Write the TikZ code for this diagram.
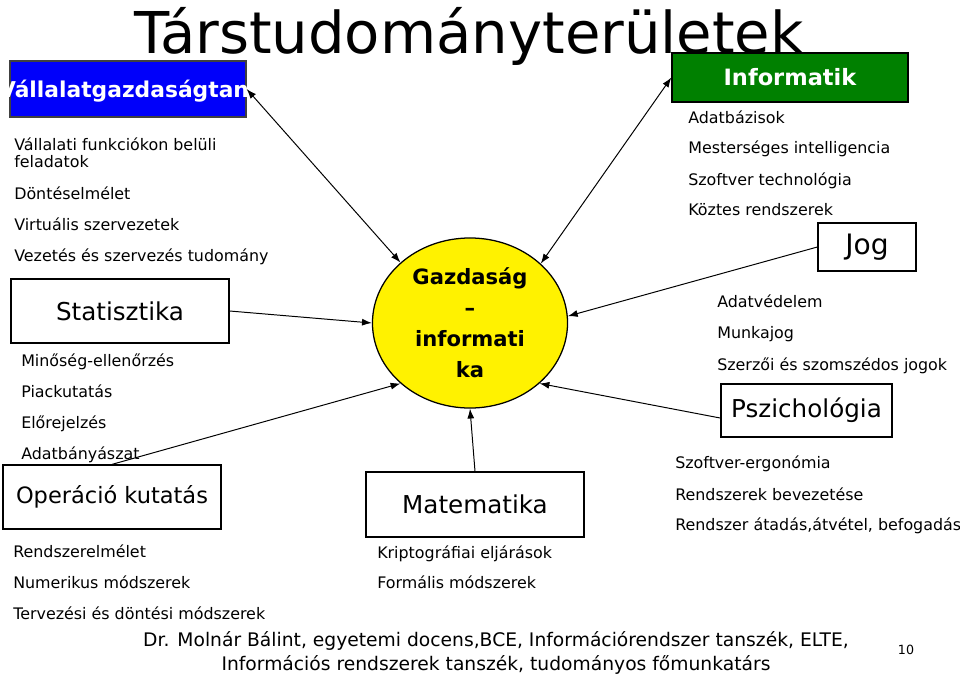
\documentclass[tikz,border=0pt]{standalone}
\usepackage{fontspec}
\setmainfont{DejaVu Sans}
\usetikzlibrary{arrows.meta,shapes.geometric}

\definecolor{boxblue}{RGB}{0,0,250}
\definecolor{boxgreen}{RGB}{0,128,0}

\begin{document}
\begin{tikzpicture}[
        x=0.025cm, y=-0.025cm,
        topic/.style={draw, line width=.9pt, inner sep=0, font=\fontsize{17.5pt}{20pt}\selectfont},
        item/.style={anchor=base west, inner sep=0, font=\fontsize{11.3pt}{13pt}\selectfont},
        tip/.style={-{Latex[length=7pt, width=5pt]}},
        link/.style={line width=.7pt, tip},
        both/.style={line width=.7pt, {Latex[length=7pt, width=5pt]}-{Latex[length=7pt, width=5pt]}},
    ]

    \useasboundingbox (0, 0) rectangle (960, 678);

    % Title.
    \node[anchor=base, inner sep=0, font=\fontsize{41pt}{44pt}\selectfont] (title) at (469, 53) {Társtudományterületek};

    % Central field.
    \node[ellipse, draw, line width=.9pt, fill=yellow, minimum width=4.875cm, minimum height=4.25cm,
        inner sep=0, align=center, font=\fontsize{15pt}{22pt}\selectfont\bfseries] (gi) at (470, 323)
        {Gazdaság\\–\\informati\\ka};

    % Define the neighbouring fields.
    \node[topic, fill=boxblue, draw=darkgray, minimum width=5.9cm, minimum height=1.4cm] (vgt) at (128, 89) {};
    \node[anchor=base, inner sep=0, text=white, font=\fontsize{15.5pt}{18pt}\selectfont\bfseries] (vgttext) at (124, 97) {Vállalatgazdaságtan};
    \node[topic, minimum width=5.45cm, minimum height=1.6cm] (stat) at (120, 311) {Statisztika};
    \node[topic, minimum width=5.45cm, minimum height=1.6cm, font=\fontsize{16pt}{19pt}\selectfont] (ok) at (112, 497) {Operáció kutatás};
    \node[topic, minimum width=5.45cm, minimum height=1.625cm] (mat) at (475, 504.5) {Matematika};
    \node[topic, fill=boxgreen, text=white, minimum width=5.9cm, minimum height=1.225cm,
        font=\fontsize{16pt}{19pt}\selectfont\bfseries] (inf) at (790, 77.5) {Informatik};
    \node[topic, minimum width=2.45cm, minimum height=1.2cm, font=\fontsize{20pt}{23pt}\selectfont] (jog) at (867, 247) {Jog};
    \node[topic, minimum width=4.275cm, minimum height=1.325cm] (psz) at (806.5, 410.5) {Pszichológia};

    % Items under each field.
    \foreach \y/\t in {150/{Vállalati funkciókon belüli}, 167/feladatok, 199/Döntéselmélet,
        230/{Virtuális szervezetek}, 261/{Vezetés és szervezés tudomány}}
        \node[item] (vgt-\y) at (14, \y) {\t};
    \foreach \y/\t in {366/Minőség-ellenőrzés, 397/Piackutatás, 428/Előrejelzés, 459/Adatbányászat}
        \node[item] (stat-\y) at (21, \y) {\t};
    \foreach \y/\t in {557/Rendszerelmélet, 588/{Numerikus módszerek}, 619/{Tervezési és döntési módszerek}}
        \node[item] (ok-\y) at (13, \y) {\t};
    \foreach \y/\t in {558/{Kriptográfiai eljárások}, 588/{Formális módszerek}}
        \node[item] (mat-\y) at (377, \y) {\t};
    \foreach \y/\t in {123/Adatbázisok, 153/{Mesterséges intelligencia}, 185/{Szoftver technológia},
        215/{Köztes rendszerek}}
        \node[item] (inf-\y) at (688, \y) {\t};
    \foreach \y/\t in {307/Adatvédelem, 338/Munkajog, 370/{Szerzői és szomszédos jogok}}
        \node[item] (jog-\y) at (717, \y) {\t};
    \foreach \y/\t in {468/Szoftver-ergonómia, 500/{Rendszerek bevezetése}, 530/{Rendszer átadás,átvétel, befogadás}}
        \node[item] (psz-\y) at (675, \y) {\t};

    % Connections to the central field.
    \draw[both] (vgt.east) -- (gi.139);
    \draw[both] (inf.west) -- (gi.40);
    \draw[link] (stat.east) -- (gi.west);
    \draw[link] (ok.north) -- (gi.221);
    \draw[link] (mat.north) -- (gi.south);
    \draw[link] (jog.west) -- (gi.4);
    \draw[link] (psz.185) -- (gi.319);

    % Footer.
    \node[align=center, inner sep=0, font=\fontsize{13.3pt}{17pt}\selectfont] (footer) at (496, 653)
        {Dr. Molnár Bálint, egyetemi docens,BCE, Információrendszer tanszék, ELTE,\\
         Információs rendszerek tanszék, tudományos főmunkatárs};
    \node[inner sep=0, font=\fontsize{9pt}{11pt}\selectfont] (pagenum) at (906, 650) {10};
\end{tikzpicture}
\end{document}
